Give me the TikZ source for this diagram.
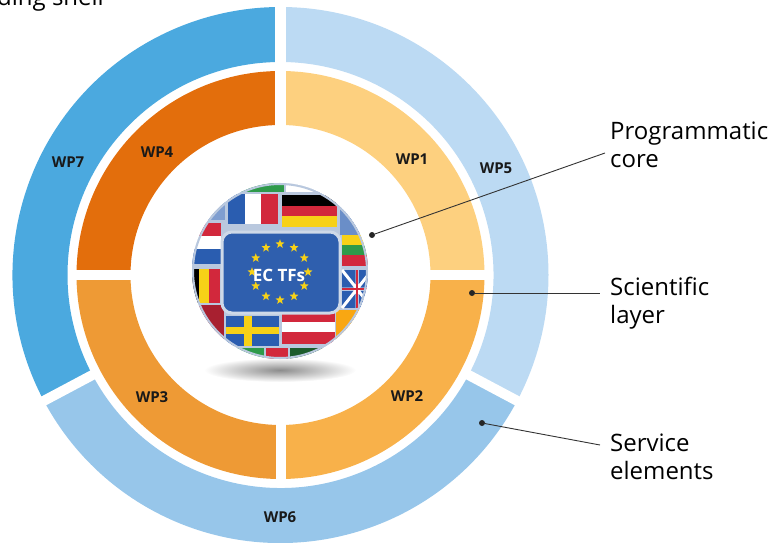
\documentclass[tikz,border=0pt]{standalone}
\usepackage{fontspec}
\setmainfont{Open Sans}
\usepackage{tikz}
\usetikzlibrary{shapes.geometric, positioning, calc}
\definecolor{wpone}{HTML}{FDD07F}
\definecolor{wptwo}{HTML}{F8B14A}
\definecolor{wpthree}{HTML}{EE9A35}
\definecolor{wpfour}{HTML}{E36E0C}
\definecolor{wpfive}{HTML}{BCDAF3}
\definecolor{wpsix}{HTML}{97C6EA}
\definecolor{wpseven}{HTML}{4BA9DF}
\definecolor{eublue}{HTML}{2F5FAE}
\definecolor{globegrey}{HTML}{B9C8DE}
\definecolor{flagblue}{HTML}{2A5DB0}
\definecolor{flagred}{HTML}{D2283C}
\definecolor{flaggold}{HTML}{F7D117}
\definecolor{flaggreen}{HTML}{2E9A4A}
\tikzstyle{wplabel} = [font=\bfseries\fontsize{15}{17}\selectfont, text=black!90]
\tikzstyle{layer} = [font=\fontsize{24}{28}\selectfont, align=left, anchor=north west, inner sep=0pt]
\tikzstyle{dot} = [circle, fill=black!85, inner sep=0pt, minimum size=6pt]
\tikzstyle{gap} = [white, line width=10pt]
\tikzstyle{pointer} = [black!80, line width=0.9pt]
\tikzstyle{eustar} = [star, star points=5, star point ratio=2.4, fill=flaggold, inner sep=0pt, minimum size=9.5pt]
% ring piece: colour, start, end, inner radius, outer radius
\newcommand{\wpsector}[5]{\fill[#1] ([shift={(#2:#5)}]C) arc[start angle=#2, end angle=#3, radius=#5] -- ([shift={(#3:#4)}]C) arc[start angle=#3, end angle=#2, radius=#4] -- cycle;}

\begin{document}
\begin{tikzpicture}[x=1pt, y=1pt]
\useasboundingbox (0,0) rectangle (777,542);
\coordinate (C) at (280.5,267);

\wpsector{wpfive}{90}{-28}{213}{268}
\wpsector{wpsix}{-28}{-152}{213}{268}
\wpsector{wpseven}{208}{90}{213}{268}
\wpsector{wpone}{90}{0}{150}{204}
\wpsector{wptwo}{0}{-90}{150}{204}
\wpsector{wpthree}{270}{180}{150}{204}
\wpsector{wpfour}{180}{90}{150}{204}

\draw[gap, line width=11pt] (C) -- ++(0,275);
\draw[gap] ([xshift=-208pt]C) -- ([xshift=208pt]C);
\draw[gap] ([yshift=-208pt]C) -- (C);
\draw[gap] ([shift={(-28:208)}]C) -- ([shift={(-28:275)}]C);
\draw[gap] ([shift={(208:208)}]C) -- ([shift={(208:275)}]C);

% globe
\coordinate (G) at (280,271);
\shade[inner color=black!45, outer color=white] (280,172) ellipse [x radius=76, y radius=12];
\begin{scope}
\clip (G) circle [radius=88];
\fill[globegrey] (G) circle [radius=88];
\foreach \x/\y/\w/\h/\c in {228/318/17/30/flagblue, 245/318/16/30/white, 261/318/17/30/flagred,
  282/336/55/11/black, 282/326/55/10/flagred, 282/315/55/11/flaggold,
  340/307/30/30/flagblue!70, 342/297/30/10/flaggold, 342/287/30/10/flaggreen, 342/276/30/11/flagred,
  342/234/30/38/flagblue, 188/239/11/34/black, 199/239/10/34/flaggold, 209/239/11/34/flagred,
  188/306/33/13/flagred, 188/293/33/13/white, 188/278/33/15/flagblue,
  226/196/53/30/flagblue, 282/220/53/10/flagred, 282/210/53/10/white, 282/198/53/12/flagred,
  236/350/48/12/flaggreen, 286/350/50/12/white, 236/180/28/14/flaggreen, 266/180/22/14/flagred,
  290/180/44/14/flaggreen!60!black, 188/322/37/30/flagblue!60, 336/202/30/30/flaggold!80!red,
  190/200/34/37/flagred!80!black, 222/340/4/10/white}
  \fill[\c] (\x,\y) rectangle ++(\w,\h);
\fill[flaggold] (244,196) rectangle ++(8,30);
\fill[flaggold] (226,208) rectangle ++(53,7);
\draw[white, line width=3pt] (342,234) -- (372,272) (342,272) -- (372,234) (357,234) -- (357,272) (342,253) -- (372,253);
\draw[flagred, line width=1.5pt] (357,234) -- (357,272) (342,253) -- (372,253);
\draw[globegrey, line width=2pt] (G) circle [radius=87];
\end{scope}
\fill[eublue, draw=globegrey!70!white, line width=3pt, rounded corners=10pt] (222,229) rectangle (340,310);
\foreach \a in {0,30,...,330}
  \node[eustar] at ($(280,270)+(\a:28)$) {};
\node (ectf) [font=\bfseries\fontsize{17}{19}\selectfont, text=white] at (279,267) {EC TFs};

% work packages
\node (wp1) [wplabel] at (412,383) {WP1};
\node (wp2) [wplabel] at (407,146) {WP2};
\node (wp3) [wplabel] at (152,145) {WP3};
\node (wp4) [wplabel] at (157,390) {WP4};
\node (wp5) [wplabel] at (496,374) {WP5};
\node (wp6) [wplabel] at (280,25) {WP6};
\node (wp7) [wplabel] at (68,380) {WP7};

% layers
\node (shell) [font=\fontsize{24}{28}\selectfont, anchor=base east, inner sep=0pt] at (104,536) {ding shell};
\node (core) [layer] at (610,420) {Programmatic\\core};
\node (sci) [layer] at (610,265) {Scientific\\layer};
\node (serv) [layer] at (610,108) {Service\\elements};
\node (coredot) [dot] at (372,307) {};
\node (scidot) [dot] at (472,249) {};
\node (servdot) [dot] at (482,119) {};

\draw [pointer] (coredot) -- ([shift={(-5pt,-31pt)}]core.north west);
\draw [pointer] (scidot) -- ([shift={(-10pt,-16pt)}]sci.north west);
\draw [pointer] (servdot) -- ([shift={(-10pt,-11pt)}]serv.north west);
\end{tikzpicture}
\end{document}
